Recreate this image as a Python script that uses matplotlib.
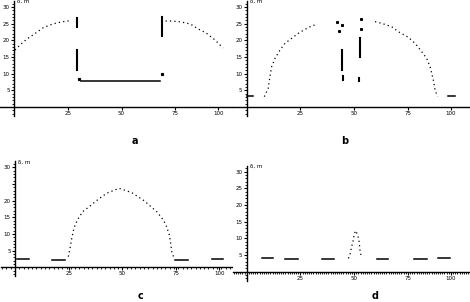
import numpy as np
import matplotlib.pyplot as plt
from matplotlib.ticker import MultipleLocator

# panel a
a_left_x = [0.5, 2.8, 6, 8.8, 13.4, 16.6, 19.8, 24.4, 26.7]
a_left_y = [17.1, 18.6, 20.4, 21.6, 23.7, 24.6, 25.2, 25.8, 25.8]
a_right_x = [70.5, 73.3, 77.9, 82, 85.7, 89.4, 93.5, 97.2]
a_right_y = [25.8, 25.8, 25.5, 24.9, 23.4, 22.2, 20.1, 17.7]
a_bars = [(29.5, 24.0, 26.7), (29.5, 11.1, 17.1), (68.7, 21.3, 27.0)]
a_flat = [(31.3, 67.7, 7.8)]
a_dots_x = [30.4, 68.7]
a_dots_y = [8.4, 9.9]

# panel b
b_left_x = [8.2, 10, 10.8, 11.6, 13.2, 15.5, 17.8, 20.9, 24, 27.1, 30.2, 33]
b_left_y = [3.1, 5.6, 9.1, 12.1, 14.6, 17.1, 19.1, 20.6, 22.1, 23.3, 24.3, 24.9]
b_right_x = [59.7, 62.8, 67.4, 70.5, 75.2, 78.3, 81.4, 83.7, 85.3, 86.8, 87.6, 88.8]
b_right_y = [25.6, 25.1, 24.1, 22.6, 20.9, 19.1, 16.6, 14.6, 12.1, 8.1, 5.1, 3.1]
b_bars = [(44.2, 11.1, 17.1), (52.7, 14.9, 20.6), (44.7, 8.1, 9.3), (52.1, 7.8, 8.8)]
b_flat = [(0, 3, 3.3), (93.8, 96.9, 3.3)]
b_dots_x = [41.9, 43.1, 44.2, 53.2, 53.2]
b_dots_y = [25.6, 22.7, 24.7, 26.3, 23.3]

# panel c
c_x = [24.8, 25.6, 26.4, 27.4, 29, 31.5, 34.9, 38.7, 42.6, 48.4, 54.3, 60,
       65.9, 69, 70.5, 71.8, 72.4, 72.9, 74]
c_y = [3.2, 5.7, 8.7, 11.7, 14.2, 16.7, 18.4, 20.4, 22.2, 23.7, 22.4, 20,
       16.7, 14.2, 12.2, 9.7, 7.2, 4.7, 2.7]
c_flat = [(0.8, 6.7, 2.4), (17, 23.3, 2.2), (74.4, 80.6, 2.2), (91.5, 96.6, 2.4)]

# panel d
d_x = [47.3, 48, 48.8, 49.6, 50, 50.7, 51.6, 52.2, 52.7, 53.2]
d_y = [4, 5, 7.5, 9.5, 11.3, 12.3, 11, 9.5, 6.5, 4.7]
d_flat = [(7, 12.4, 4.2), (17.8, 23.7, 3.9), (35.2, 40.6, 3.8),
          (60.5, 65.9, 3.8), (77.8, 83.7, 3.9), (89.1, 94.6, 4.2)]

xticks = [25, 50, 75, 95]
xlabels = ['25', '50', '75', '100']
yticks = [5, 10, 15, 20, 25, 30]

W, H = 470, 302
sx, sy = 2.15, 1 / 0.3


def make_ax(fig, ox, oy, ylab_skip=()):
    # origin (ox, oy) in pixels from top-left
    l, r = ox - 14, ox + 222
    t, b = oy - 106, oy + 9
    ax = fig.add_axes([l / W, 1 - b / H, (r - l) / W, (b - t) / H])
    ax.set_xlim(-14 / sx, 222 / sx)
    ax.set_ylim(-9 / sy, 106 / sy)
    for s in ['top', 'right']:
        ax.spines[s].set_visible(False)
    ax.spines['left'].set_position(('data', 0))
    ax.spines['bottom'].set_position(('data', 0))
    for s in ['left', 'bottom']:
        ax.spines[s].set_linewidth(1.0)
    ax.set_xticks(xticks)
    ax.set_xticklabels(xlabels)
    ax.set_yticks(yticks)
    ax.set_yticklabels(['' if v in ylab_skip else str(v) for v in yticks])
    ax.yaxis.set_minor_locator(MultipleLocator(1))
    ax.tick_params(which='both', direction='out', labelsize=4, pad=1)
    ax.tick_params(which='major', length=2, width=0.8)
    ax.tick_params(which='minor', length=1.5, width=0.6)
    ax.text(1.5, 31.6, 'δ, m', fontsize=4, va='center')
    return ax


def draw(ax, xs, ys):
    ax.plot(xs, ys, color='black', ls=(0, (1, 2.5)), lw=0.9)


def bars(ax, items):
    for x, y0, y1 in items:
        ax.plot([x, x], [y0, y1], color='black', lw=1.5)


def flats(ax, items):
    for x0, x1, y in items:
        ax.plot([x0, x1], [y, y], color='black', lw=1.1)


fig = plt.figure(figsize=(W / 100, H / 100), dpi=100)

ax = make_ax(fig, 14, 107)
draw(ax, a_left_x, a_left_y)
draw(ax, a_right_x, a_right_y)
bars(ax, a_bars)
flats(ax, a_flat)
ax.plot(a_dots_x, a_dots_y, 's', color='black', ms=1.3)

ax = make_ax(fig, 246.7, 107)
draw(ax, b_left_x, b_left_y)
draw(ax, b_right_x, b_right_y)
bars(ax, b_bars)
flats(ax, b_flat)
ax.plot(b_dots_x, b_dots_y, 's', color='black', ms=1.2)

ax = make_ax(fig, 15, 267.3, ylab_skip=(25,))
draw(ax, c_x, c_y)
flats(ax, c_flat)
ax.xaxis.set_minor_locator(MultipleLocator(2))

ax = make_ax(fig, 246.7, 271.7)
draw(ax, d_x, d_y)
flats(ax, d_flat)
ax.xaxis.set_minor_locator(MultipleLocator(1))

for lab, (x, y) in zip('abcd', [(135, 141), (345, 141), (140, 296), (375, 296)]):
    fig.text(x / W, 1 - y / H, lab, fontsize=7, fontweight='bold',
             ha='center', va='center')

fig.savefig('out.png', dpi=100)
